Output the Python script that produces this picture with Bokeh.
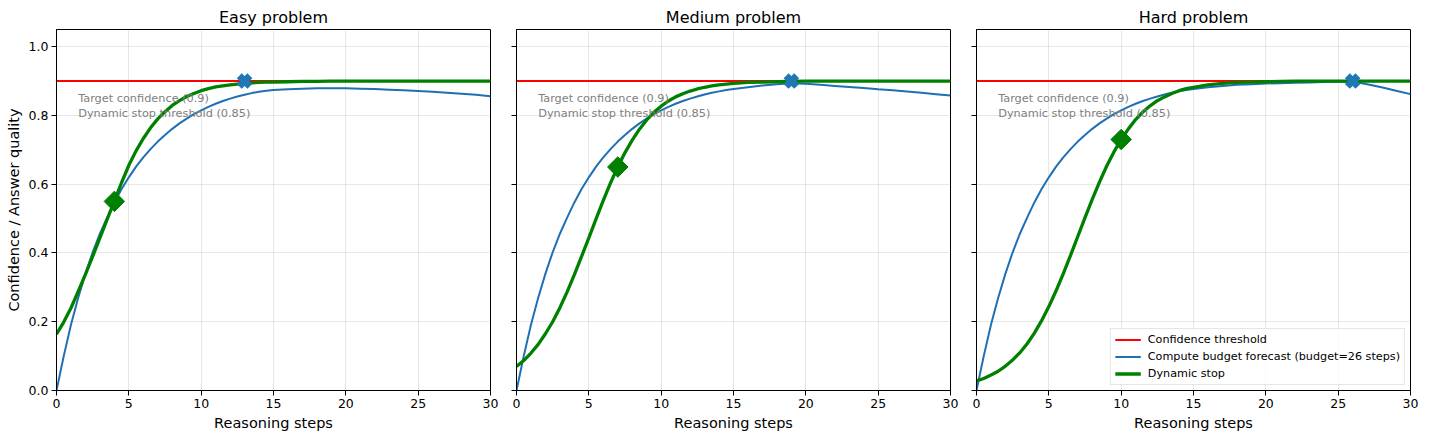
import numpy as np
from bokeh.plotting import figure
from bokeh.layouts import row
from bokeh.models import (FixedTicker, Legend, LegendItem, Range1d,
                          CustomJSTickFormatter, PrintfTickFormatter)
from bokeh.core.properties import value
from bokeh.embed import file_html
from bokeh.resources import INLINE

# ---------------- data ----------------
titles = ["Easy problem", "Medium problem", "Hard problem"]

steps = [0, 0.5, 1, 1.5, 2, 2.5, 3, 3.5, 4, 4.5, 5, 5.5, 6, 6.5, 7, 7.5,
         8, 8.5, 9, 9.5, 10, 10.5, 11, 11.5, 12, 12.5, 13, 13.5, 14, 14.5,
         15, 16, 17, 18, 19, 20, 21, 22, 23, 24, 25, 26, 27, 28, 29, 30]

threshold = 0.9

# Compute budget forecast (blue)
forecast_easy = [0.0, 0.100, 0.191, 0.270, 0.340, 0.402, 0.456, 0.503, 0.547, 0.586,
                 0.620, 0.651, 0.678, 0.702, 0.724, 0.743, 0.761, 0.777, 0.791, 0.804,
                 0.815, 0.825, 0.834, 0.842, 0.849, 0.855, 0.860, 0.865, 0.869, 0.872,
                 0.874, 0.876, 0.878, 0.879, 0.879, 0.879, 0.878, 0.877, 0.875, 0.873,
                 0.871, 0.869, 0.866, 0.863, 0.860, 0.856]
forecast_medium = [0.0, 0.100, 0.191, 0.270, 0.340, 0.402, 0.456, 0.503, 0.547, 0.586,
                   0.620, 0.651, 0.678, 0.702, 0.724, 0.743, 0.761, 0.777, 0.791, 0.804,
                   0.815, 0.825, 0.834, 0.842, 0.849, 0.855, 0.861, 0.866, 0.870, 0.874,
                   0.877, 0.882, 0.887, 0.891, 0.894, 0.892, 0.889, 0.886, 0.883, 0.880,
                   0.876, 0.873, 0.870, 0.866, 0.862, 0.858]
forecast_hard = [0.0, 0.100, 0.191, 0.270, 0.340, 0.402, 0.456, 0.503, 0.547, 0.586,
                 0.620, 0.651, 0.678, 0.702, 0.724, 0.743, 0.761, 0.777, 0.791, 0.804,
                 0.815, 0.825, 0.834, 0.842, 0.849, 0.855, 0.861, 0.866, 0.870, 0.874,
                 0.877, 0.882, 0.886, 0.889, 0.891, 0.893, 0.894, 0.895, 0.896, 0.897,
                 0.898, 0.899, 0.891, 0.882, 0.872, 0.862]

# Dynamic stop (green)
dynamic_easy = [0.164, 0.199, 0.240, 0.288, 0.338, 0.390, 0.444, 0.498, 0.551, 0.605,
                0.655, 0.697, 0.733, 0.764, 0.790, 0.811, 0.829, 0.843, 0.855, 0.864,
                0.872, 0.878, 0.883, 0.886, 0.889, 0.891, 0.893, 0.895, 0.896, 0.897,
                0.897, 0.898, 0.899, 0.899, 0.900, 0.900, 0.900, 0.900, 0.900, 0.900,
                0.900, 0.900, 0.900, 0.900, 0.900, 0.900]
dynamic_medium = [0.070, 0.087, 0.109, 0.134, 0.165, 0.200, 0.241, 0.287, 0.337, 0.390,
                  0.444, 0.499, 0.553, 0.604, 0.650, 0.692, 0.728, 0.760, 0.787, 0.809,
                  0.827, 0.842, 0.854, 0.863, 0.871, 0.877, 0.882, 0.886, 0.889, 0.891,
                  0.893, 0.896, 0.897, 0.898, 0.899, 0.900, 0.900, 0.900, 0.900, 0.900,
                  0.900, 0.900, 0.900, 0.900, 0.900, 0.900]
dynamic_hard = [0.028, 0.035, 0.045, 0.056, 0.071, 0.089, 0.110, 0.136, 0.167, 0.203,
                0.244, 0.290, 0.340, 0.393, 0.448, 0.503, 0.556, 0.606, 0.653, 0.694,
                0.730, 0.761, 0.788, 0.810, 0.828, 0.843, 0.854, 0.864, 0.872, 0.878,
                0.882, 0.889, 0.893, 0.896, 0.897, 0.898, 0.899, 0.900, 0.900, 0.900,
                0.900, 0.900, 0.900, 0.900, 0.900, 0.900]

forecasts = [forecast_easy, forecast_medium, forecast_hard]
dynamics = [dynamic_easy, dynamic_medium, dynamic_hard]

stop_steps = [4, 7, 10]
stop_conf = [0.55, 0.65, 0.73]
budget_steps = [13, 19, 26]

x_ticks = [0, 5, 10, 15, 20, 25, 30]
y_ticks = [0.0, 0.2, 0.4, 0.6, 0.8, 1.0]

note_x = 1.5
note_y = [0.848, 0.807]
note_text = ["Target confidence (0.9)", "Dynamic stop threshold (0.85)"]

legend_labels = ["Confidence threshold",
                 "Compute budget forecast (budget=26 steps)",
                 "Dynamic stop"]

# ---------------- style ----------------
FONT = "DejaVu Sans"
RED = "#ff0000"
BLUE = "#1f6fb4"
MARK_BLUE = "#1f77b4"
GREEN = "#008000"


def make_panel(i):
    first = i == 0
    last = i == 2
    p = figure(frame_width=434, frame_height=361,
               x_range=Range1d(0, 30), y_range=Range1d(0, 1.05),
               output_backend="svg", toolbar_location=None,
               min_border_left=56 if first else 16,
               min_border_right=10,
               min_border_top=29, min_border_bottom=40,
               background_fill_color="white", border_fill_color="white")
    p.title.text = titles[i]
    p.title.align = "center"
    p.title.text_font = FONT
    p.title.text_font_size = "16px"
    p.title.text_font_style = "normal"
    p.title.text_color = "black"
    p.title.standoff = 6

    p.outline_line_color = "black"
    p.outline_line_width = 1
    p.outline_line_alpha = 1

    p.xgrid.grid_line_color = "#b0b0b0"
    p.ygrid.grid_line_color = "#b0b0b0"
    p.xgrid.grid_line_alpha = 0.3
    p.ygrid.grid_line_alpha = 0.3

    for ax in (p.xaxis[0], p.yaxis[0]):
        ax.axis_line_color = "black"
        ax.major_tick_line_color = "black"
        ax.major_tick_out = 5
        ax.major_tick_in = 0
        ax.minor_tick_line_color = None
        ax.major_label_text_font = FONT
        ax.major_label_text_font_size = "12.5px"
        ax.major_label_text_color = "black"
        ax.major_label_standoff = 3
        ax.axis_label_text_font = FONT
        ax.axis_label_text_font_size = "14.5px"
        ax.axis_label_text_font_style = "normal"
        ax.axis_label_text_color = "black"
        ax.axis_label_standoff = 4

    p.xaxis.ticker = FixedTicker(ticks=x_ticks)
    p.yaxis.ticker = FixedTicker(ticks=y_ticks)
    p.xaxis.axis_label = "Reasoning steps"
    if first:
        p.yaxis.formatter = PrintfTickFormatter(format="%.1f")
        p.yaxis.axis_label = "Confidence / Answer quality"
    else:
        p.yaxis.formatter = CustomJSTickFormatter(code="return ''")

    r_red = p.line(x=[steps[0], steps[-1]], y=[threshold, threshold],
                   line_color=RED, line_width=2)
    r_blue = p.line(x=steps, y=forecasts[i], line_color=BLUE, line_width=2)
    r_green = p.line(x=steps, y=dynamics[i], line_color=GREEN, line_width=3.3)

    p.scatter(x=[stop_steps[i]], y=[stop_conf[i]], marker="square",
              angle=np.pi / 4, size=14.5, fill_color=GREEN, line_color=GREEN)
    p.scatter(x=[budget_steps[i]], y=[threshold], marker="x", size=15,
              line_width=7, line_color=MARK_BLUE)

    p.text(x=[note_x, note_x], y=note_y, text=note_text,
           text_font=value(FONT), text_font_size="11.3px", text_color="#808080",
           text_align="left", text_baseline="middle")

    if last:
        legend = Legend(items=[
            LegendItem(label=legend_labels[0], renderers=[r_red]),
            LegendItem(label=legend_labels[1], renderers=[r_blue]),
            LegendItem(label=legend_labels[2], renderers=[r_green]),
        ], location="bottom_right")
        legend.label_text_font = FONT
        legend.label_text_font_size = "11.2px"
        legend.label_text_color = "black"
        legend.glyph_width = 26
        legend.glyph_height = 11
        legend.label_height = 11
        legend.spacing = 4
        legend.padding = 4
        legend.label_standoff = 7
        legend.margin = 5
        legend.border_line_color = "#cccccc"
        legend.border_line_width = 1
        legend.background_fill_alpha = 0.8
        p.add_layout(legend)
    return p


panels = [make_panel(i) for i in range(3)]
layout = row(*panels)

open("out.html", "w").write(file_html(layout, INLINE))
